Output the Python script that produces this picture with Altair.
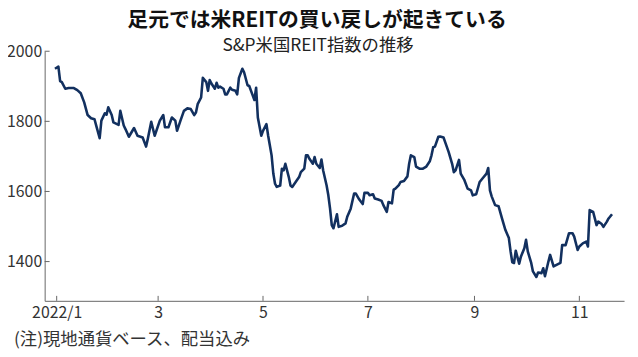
import altair as alt
import pandas as pd

# ---- data ----
# day offsets from 2022-01-01 and index level
days = [-1, 1, 2, 3, 5, 7, 10, 12, 14, 16, 18, 20, 22, 23, 25, 26, 28, 29, 30, 32, 33, 36, 37, 39, 40, 42, 45, 47, 50, 52, 53, 55, 57,
        60, 62, 63, 65, 67, 69, 70, 72, 74, 76, 78, 80, 81, 82, 84, 85, 87, 88, 89, 90, 92, 93, 94, 95, 97, 98, 99, 101, 102, 104, 105, 106, 108, 109, 111, 112, 114, 115, 116, 117, 119,
        120, 122, 123, 124, 125, 126, 127, 128, 130, 131, 132, 133, 135, 136, 137, 139, 141, 142, 144, 145, 146, 147, 149, 150, 151, 153, 154, 155, 157, 158, 159, 160, 161, 163, 164, 166, 168, 169, 171, 173, 174, 176, 178, 179, 181,
        182, 184, 185, 187, 189, 190, 192, 193, 195, 196, 197, 199, 200, 202, 204, 205, 206, 208, 209, 211, 213, 215, 217, 218, 219, 220, 222, 223, 225, 226, 228, 230, 231, 232, 234, 235, 237, 239, 241, 242,
        244, 246, 248, 250, 251, 252, 253, 255, 257, 259, 261, 263, 264, 265, 266, 267, 269, 270, 272, 273, 274, 276, 277, 279, 280, 282, 283, 284, 286, 287, 289, 291, 293, 294, 296, 298, 300, 301, 303, 304, 306, 308, 309, 310, 312, 314, 315, 317, 318, 320, 321, 323]
values = [1950, 1956, 1915, 1912, 1893, 1895, 1895, 1889, 1880, 1854, 1818, 1809, 1806, 1788, 1752, 1802, 1823, 1819, 1840, 1818, 1797, 1790, 1830, 1788, 1778, 1756, 1781, 1759, 1754, 1728, 1750, 1799, 1759,
          1802, 1818, 1783, 1783, 1811, 1802, 1773, 1802, 1830, 1837, 1835, 1818, 1825, 1849, 1868, 1924, 1912, 1887, 1918, 1908, 1893, 1910, 1896, 1899, 1893, 1877, 1877, 1896, 1890, 1887, 1877, 1924, 1950, 1940, 1903, 1901, 1874, 1861, 1896, 1811, 1759,
          1773, 1792, 1759, 1731, 1703, 1651, 1622, 1613, 1617, 1665, 1660, 1679, 1641, 1617, 1613, 1627, 1641, 1655, 1665, 1703, 1703, 1693, 1679, 1698, 1679, 1667, 1691, 1660, 1617, 1589, 1551, 1504, 1495, 1535, 1499, 1502, 1509, 1528, 1551, 1594, 1594, 1577, 1564, 1596, 1596,
          1589, 1592, 1580, 1577, 1573, 1561, 1542, 1570, 1566, 1605, 1608, 1618, 1627, 1630, 1643, 1679, 1703, 1698, 1671, 1665, 1665, 1671, 1686, 1703, 1726, 1728, 1756, 1757, 1754, 1740, 1712, 1679, 1655, 1660, 1690, 1651, 1634, 1608, 1603, 1589,
          1592, 1627, 1639, 1651, 1667, 1603, 1586, 1561, 1558, 1523, 1490, 1467, 1429, 1398, 1396, 1431, 1394, 1414, 1438, 1462, 1429, 1396, 1372, 1356, 1369, 1367, 1381, 1358, 1400, 1419, 1386, 1391, 1396, 1447, 1447, 1481, 1481, 1471, 1433, 1443, 1452, 1457, 1443, 1547, 1542, 1504, 1514, 1507, 1499, 1514, 1523, 1535]

tick_months = [1, 3, 5, 7, 9, 11]
tick_labels = ["2022/1", "3", "5", "7", "9", "11"]
y_ticks = [1400, 1600, 1800, 2000]

title_text = "足元では米REITの買い戻しが起きている"
subtitle_text = "S&P米国REIT指数の推移"
note_text = "(注)現地通貨ベース、配当込み"

# ---- tables ----
dates = pd.Timestamp("2022-01-01") + pd.to_timedelta(days, unit="D")
df = pd.DataFrame({"date": dates, "value": values})
df_xt = pd.DataFrame({"d": [pd.Timestamp(2022, m, 1) for m in tick_months]})
df_yt = pd.DataFrame({"v": y_ticks})

W, H = 585, 252
FONT = "Noto Sans CJK JP"
AXIS_COLOR = "#666666"
LABEL_COLOR = "#333333"
LINE_COLOR = "#12305f"

x_scale = alt.Scale(domain=[alt.DateTime(year=2021, month=12, date=25),
                            alt.DateTime(year=2022, month=11, date=27)])
y_scale = alt.Scale(domain=[1288, 2000], nice=False, zero=False)

label_expr = "''"
for m, lab in reversed(list(zip(tick_months, tick_labels))):
    label_expr = f"month(datum.value) == {m - 1} ? '{lab}' : ({label_expr})"

x_axis = alt.Axis(values=[alt.DateTime(year=2022, month=m, date=1) for m in tick_months],
                  labelExpr=label_expr, title=None, grid=False, ticks=False,
                  domainColor=AXIS_COLOR, domainWidth=1, labelFont=FONT, labelFontSize=16,
                  labelColor=LABEL_COLOR, labelPadding=4)
y_axis = alt.Axis(values=y_ticks, format="d", title=None, grid=False, ticks=False,
                  domainColor=AXIS_COLOR, domainWidth=1, labelFont=FONT, labelFontSize=16,
                  labelColor=LABEL_COLOR, labelPadding=3)

line = alt.Chart(df).mark_line(color=LINE_COLOR, strokeWidth=2.6, strokeJoin="round").encode(
    x=alt.X("date:T", scale=x_scale, axis=x_axis),
    y=alt.Y("value:Q", scale=y_scale, axis=y_axis),
)

xticks = alt.Chart(df_xt).mark_rule(color=AXIS_COLOR, strokeWidth=1).encode(
    x=alt.X("d:T", scale=x_scale, axis=x_axis), y=alt.value(H), y2=alt.value(H - 5))
yticks = alt.Chart(df_yt).mark_rule(color=AXIS_COLOR, strokeWidth=1).encode(
    y=alt.Y("v:Q", scale=y_scale, axis=y_axis), x=alt.value(0), x2=alt.value(5))

title = alt.Chart(pd.DataFrame({"t": [title_text]})).mark_text(
    font=FONT, fontSize=21, fontWeight="bold", color="#111111", align="center", baseline="middle"
).encode(text="t:N", x=alt.value(275), y=alt.value(-30))
subtitle = alt.Chart(pd.DataFrame({"t": [subtitle_text]})).mark_text(
    font=FONT, fontSize=17.5, color="#222222", align="center", baseline="middle"
).encode(text="t:N", x=alt.value(276), y=alt.value(-5))
note = alt.Chart(pd.DataFrame({"t": [note_text]})).mark_text(
    font=FONT, fontSize=17.5, color="#333333", align="left", baseline="middle"
).encode(text="t:N", x=alt.value(-31), y=alt.value(292))

chart = alt.layer(line, xticks, yticks, title, subtitle, note).properties(
    width=W, height=H,
    autosize=alt.AutoSizeParams(type="none"),
    padding={"left": 37, "top": 42, "right": 6, "bottom": 49},
).configure_view(stroke=None)

chart.save("out.html", embed_options={"renderer": "svg", "actions": False})
